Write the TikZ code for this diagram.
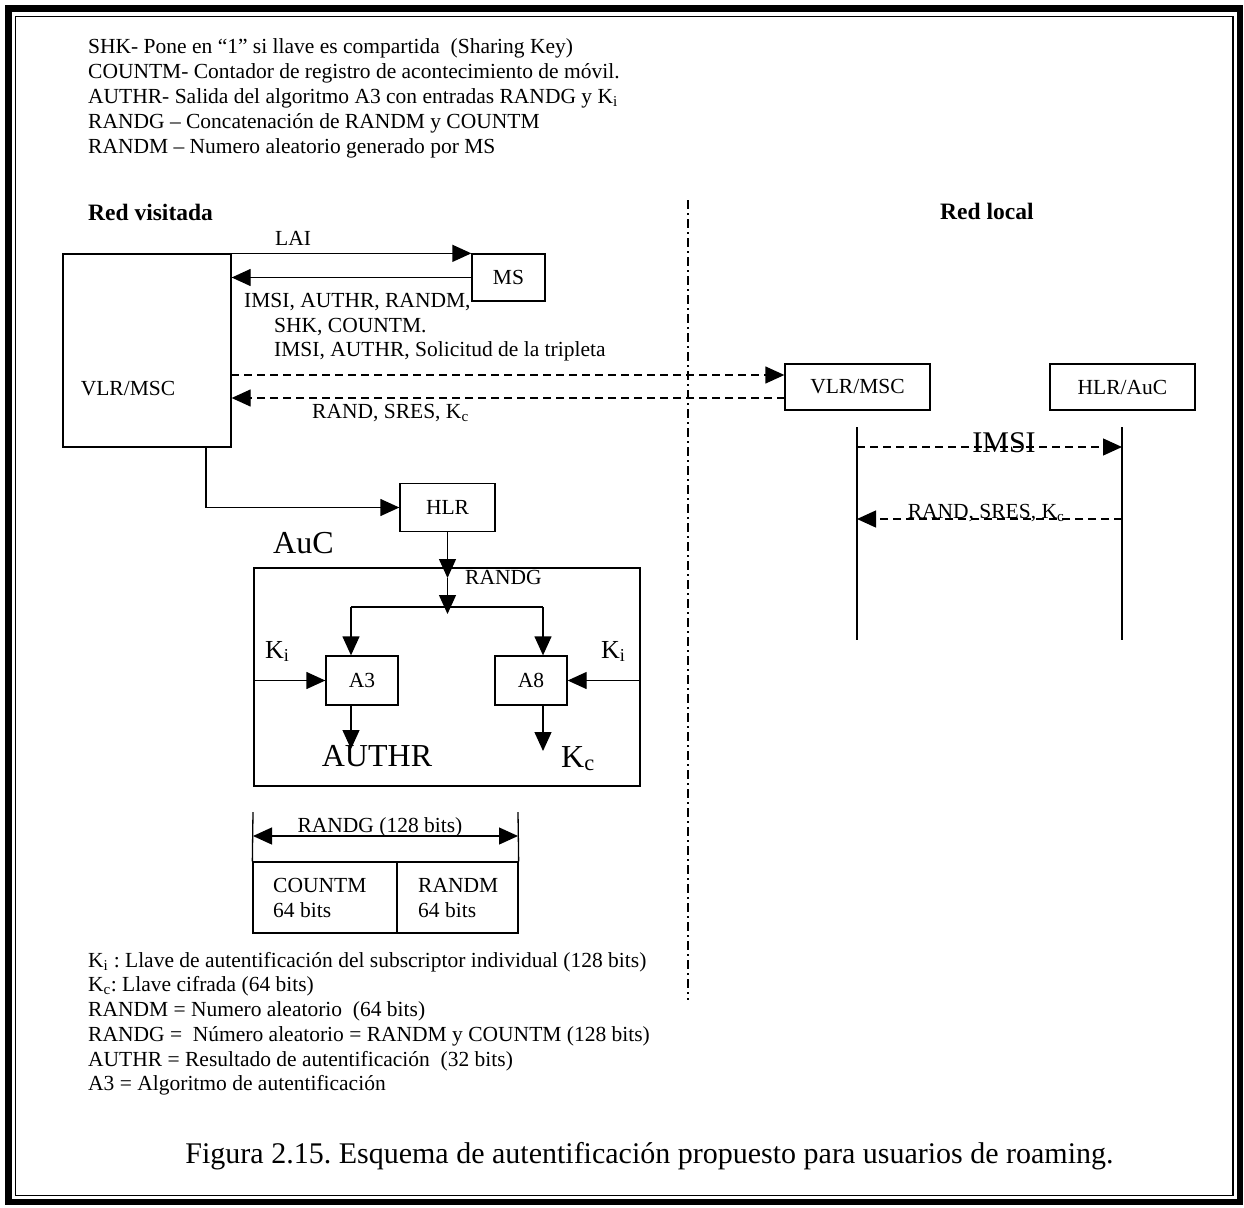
\documentclass[tikz,border=0pt]{standalone}
\usepackage{fontspec}
\setmainfont{Liberation Serif}
\usetikzlibrary{arrows.meta}
\newcommand\fsz[1]{\fontsize{#1}{#1}\selectfont}
\frenchspacing
\begin{document}
\begin{tikzpicture}[x=1pt,y=-1pt,
  every node/.style={font=\fsz{21.5}},
  box/.style={draw,line width=1.3pt,inner sep=0pt},
  ln/.style={line width=1.3pt},
  arr/.style={ln,-{Triangle[length=19pt,width=17pt]}},
  dsh/.style={dash pattern=on 8pt off 5pt},
  txt/.style={anchor=base west,inner sep=0pt},
  ctxt/.style={anchor=base,inner sep=0pt},
  big/.style={font=\fsz{32}},
]
\useasboundingbox (0,0) rectangle (1244,1207);
% double frame
\draw[line width=6.5pt] (8.5,8.5) rectangle (1240,1202);
\draw[line width=1.3pt] (15.5,16.5) rectangle (1233,1195.5);

% glossary at the top
\node[txt] (g1) at (88,54) {SHK- Pone en “1” si llave es compartida\ \ (Sharing Key)};
\node[txt] (g2) at (88,78.5) {COUNTM- Contador de registro de acontecimiento de móvil.};
\node[txt] (g3) at (88,103) {AUTHR- Salida del algoritmo A3 con entradas RANDG y K\textsubscript{i}};
\node[txt] (g4) at (88,128) {RANDG – Concatenación de RANDM y COUNTM};
\node[txt] (g5) at (88,153) {RANDM – Numero aleatorio generado por MS};

% network titles and boundary
\node[txt,font=\fsz{23.5}\bfseries] (rv) at (88,220) {Red visitada};
\node[txt,font=\fsz{23.5}\bfseries] (rl) at (940,219) {Red local};
\coordinate (s1) at (688,200);
\coordinate (s2) at (688,1000);
\draw[line width=1.2pt,dash pattern=on 9pt off 4pt on 2pt off 4pt] (s1) -- (s2);

% visited network entities
\node[box,minimum width=168pt,minimum height=193pt] (vlrA) at (147,350.5) {};
\node[inner sep=0pt] (vlrAtxt) at (128,389) {VLR/MSC};
\node[box,minimum width=73pt,minimum height=47pt] (ms) at (508.5,277.5) {MS};

\draw[arr] (vlrA.north east) -- (ms.north west);
\node[txt] (lai) at (275,245) {LAI};
\draw[arr] (ms.west) -- (ms.west -| vlrA.east);
\node[txt] (m1) at (244,307) {IMSI, AUTHR, RANDM,};
\node[txt] (m2) at (274,332) {SHK, COUNTM.};
\node[txt] (m3) at (274,356) {IMSI, AUTHR, Solicitud de la tripleta};

% home network entities
\node[box,minimum width=145pt,minimum height=46pt] (vlrB) at (857.5,387) {VLR/MSC};
\node[box,minimum width=145pt,minimum height=46pt] (hlrauc) at (1122.5,387) {HLR/AuC};

\coordinate (p1) at (231,375);
\coordinate (p2) at (785,398);
\draw[arr,dsh] (p1) -- (p1 -| vlrB.west);
\draw[arr,dsh] (p2) -- (p2 -| vlrA.east);
\node[txt] (m4) at (312,418) {RAND, SRES, K\textsubscript{c}};

% message sequence in the home network
\coordinate (u1) at (857,427);
\coordinate (u2) at (857,640);
\coordinate (v1) at (1122,427);
\coordinate (v2) at (1122,640);
\draw[ln] (u1) -- (u2);
\draw[ln] (v1) -- (v2);
\coordinate (q1) at (857,447);
\coordinate (q2) at (1122,519);
\draw[arr,dsh] (q1) -- (q1 -| v1);
\node[ctxt,font=\fsz{30}] (imsi) at (1004,452) {IMSI};
\draw[arr,dsh] (q2) -- (q2 -| u1);
\node[ctxt] (m5) at (986,518) {RAND, SRES, K\textsubscript{c}};

% HLR and authentication centre
\node[box,minimum width=95pt,minimum height=48pt] (hlr) at (447.5,507.5) {HLR};
\coordinate (d1) at (206,447);
\draw[arr] (d1) |- (hlr.west);
\node[txt,big] (auclbl) at (273,553) {AuC};
\node[box,minimum width=386pt,minimum height=218pt] (auc) at (447,677) {};
\node[box,minimum width=72pt,minimum height=49pt] (a3) at (362,680.5) {A3};
\node[box,minimum width=72pt,minimum height=49pt] (a8) at (531,680.5) {A8};

\coordinate (r1) at (447.5,578);
\coordinate (r2) at (447.5,614);
\draw[arr] (hlr.south) -- (r1);
\draw[arr] (r1) -- (r2);
\node[txt] (randg) at (465,584) {RANDG};
\coordinate (bl) at (351,607);
\coordinate (br) at (543,607);
\draw[ln] (bl) -- (br);
\draw[arr] (bl) -- (bl |- a3.north);
\draw[arr] (br) -- (br |- a8.north);

\draw[arr] (auc.west |- a3.west) -- (a3.west);
\draw[arr] (auc.east |- a8.east) -- (a8.east);
\node[txt,font=\fsz{26}] (kil) at (265,658) {K\textsubscript{i}};
\node[txt,font=\fsz{26}] (kir) at (601,658) {K\textsubscript{i}};

\coordinate (o1) at (351,749);
\coordinate (o2) at (543,751);
\draw[arr] (a3.south -| bl) -- (o1);
\draw[arr] (a8.south -| br) -- (o2);
\node[ctxt,big] (authr) at (377,766) {AUTHR};
\node[txt,big] (kc) at (561,767) {K\textsubscript{c}};

% RANDG field layout
\node[box,minimum width=265pt,minimum height=71pt] (bits) at (385.5,897.5) {};
\coordinate (f1) at (253,812);
\coordinate (f2) at (518,812);
\draw[ln] (f1) -- (bits.north west);
\draw[ln] (f2) -- (bits.north east);
\coordinate (div) at (397,862);
\draw[ln] (div) -- (div |- bits.south);
\coordinate (h1) at (253,836);
\coordinate (h2) at (518,836);
\draw[ln,{Triangle[length=19pt,width=17pt]}-{Triangle[length=19pt,width=17pt]}] (h1) -- (h2);
\node[ctxt] (randgw) at (380,832) {RANDG (128 bits)};
\node[txt] (c1) at (273,892) {COUNTM};
\node[txt] (c2) at (273,917) {64 bits};
\node[txt] (c3) at (418,892) {RANDM};
\node[txt] (c4) at (418,917) {64 bits};

% legend below
\node[txt] (l1) at (88,967) {K\textsubscript{i} : Llave de autentificación del subscriptor individual (128 bits)};
\node[txt] (l2) at (88,991.5) {K\textsubscript{c}: Llave cifrada (64 bits)};
\node[txt] (l3) at (88,1016) {RANDM = Numero aleatorio\ \ (64 bits)};
\node[txt] (l4) at (88,1041) {RANDG =\ \ Número aleatorio = RANDM y COUNTM (128 bits)};
\node[txt] (l5) at (88,1066) {AUTHR = Resultado de autentificación\ \ (32 bits)};
\node[txt] (l6) at (88,1090) {A3 = Algoritmo de autentificación};

% caption
\node[ctxt,font=\fsz{30}] (cap) at (649.5,1163) {Figura 2.15. Esquema de autentificación propuesto para usuarios de roaming.};
\end{tikzpicture}
\end{document}
